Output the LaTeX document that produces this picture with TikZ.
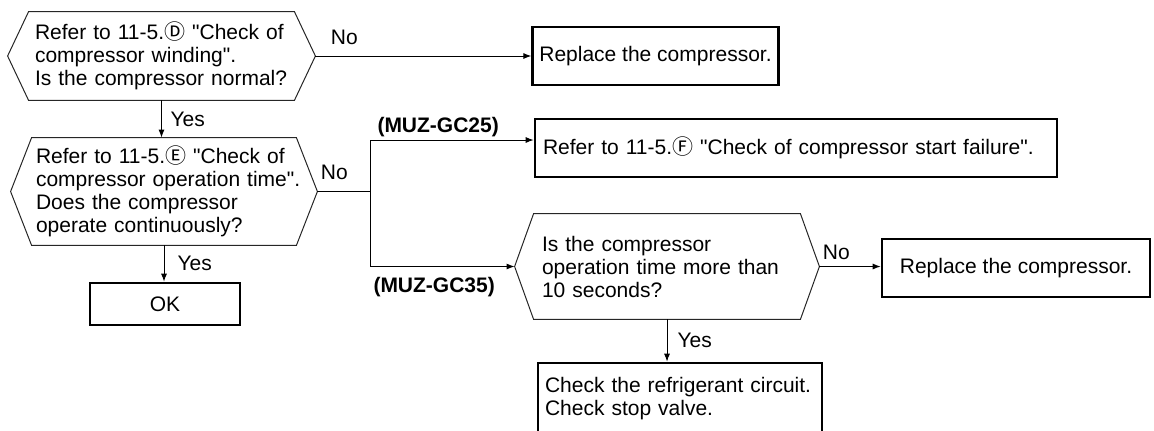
\documentclass[tikz,border=0pt]{standalone}
\usepackage{fontspec}
\setmainfont{Liberation Sans}
\newfontfamily\circfont{Noto Sans CJK JP}
\usepackage{tikz}
\usetikzlibrary{arrows.meta}

\newcommand{\circled}[1]{{\circfont\fontsize{10.5}{11}\selectfont #1}}
\newcommand{\qt}{\textquotedbl}

\begin{document}
\begin{tikzpicture}[
  x=0.5pt,
  y=-0.5pt,
  every node/.style={font=\fontsize{10.5}{11.5}\selectfont},
  decision/.style={inner ysep=0pt, align=left},
  result/.style={draw, line width=1.3pt, inner ysep=0pt},
  hexline/.style={draw=black!85, line width=0.5pt},
  flow/.style={draw, line width=0.5pt, -{Latex[length=4pt,width=3pt]}},
  link/.style={draw, line width=0.5pt},
  answer/.style={inner sep=1.5pt},
  model/.style={inner sep=1.5pt, font=\fontsize{10.5}{11.5}\selectfont\bfseries}
]
\useasboundingbox (0,0) rectangle (1154,430);
\node[decision, text width=126.5pt, inner xsep=13.5pt, minimum height=44pt] (dec1) at (161.5,56)
  {Refer to 11-5.\circled{Ⓓ} \qt Check of\\ compressor winding\qt.\\ Is the compressor normal?};
\node[decision, text width=128pt, inner xsep=12.5pt, minimum height=53.5pt] (dec2) at (164,191.5)
  {Refer to 11-5.\circled{Ⓔ} \qt Check of\\ \mbox{compressor operation time\qt.}\\ Does the compressor\\ operate continuously?};
\node[decision, text width=125pt, inner xsep=13.5pt, minimum height=52.5pt] (dec3) at (667,266.5)
  {Is the compressor\\ operation time more than\\ 10 seconds?};
\foreach \n/\d in {dec1/10.5pt,dec2/10.5pt,dec3/9.5pt} {
  \draw[hexline] (\n.west) -- ([xshift=\d]\n.north west) -- ([xshift=-\d]\n.north east)
    -- (\n.east) -- ([xshift=-\d]\n.south east) -- ([xshift=\d]\n.south west) -- cycle;
}
\node[result, minimum width=122.5pt, minimum height=29pt] (rep1) at (655.5,56) {Replace the compressor.};
\node[result, text width=253pt, inner xsep=4pt, minimum height=29pt, align=left] (chkF) at (796,148)
  {Refer to 11-5.\circled{Ⓕ} \qt Check of compressor start failure\qt.};
\node[result, minimum width=75pt, minimum height=21pt] (ok) at (165,304) {OK};
\node[result, minimum width=134pt, minimum height=29pt] (rep2) at (1016,268) {Replace the compressor.};
\node[result, text width=135pt, inner xsep=3.5pt, minimum height=36pt, align=left] (chk) at (680,399)
  {Check the refrigerant circuit.\\ Check stop valve.};
\coordinate (split) at (370,191.5);
\draw[flow] (dec1.east) -- node[answer, pos=0, anchor=south west, xshift=6pt, yshift=4pt] {No} (rep1.west);
\draw[flow] (dec1.south) -- node[answer, anchor=west, xshift=2.75pt] {Yes} (dec1.south |- dec2.north);
\draw[link] (dec2.east) -- node[answer, pos=0, anchor=south west, yshift=4pt] {No} (split);
\draw[flow] (dec2.south) -- node[answer, anchor=west, xshift=5pt] {Yes} (dec2.south |- ok.north);
\draw[flow] (split) |- node[model, pos=0.5, anchor=south west, xshift=2pt] {(MUZ-GC25)} ([yshift=4pt]chkF.west);
\draw[flow] (split) |- node[model, pos=0.5, anchor=north west, yshift=-3.75pt] {(MUZ-GC35)} (dec3.west);
\draw[flow] (dec3.east) -- node[answer, pos=0, anchor=south west, yshift=1.75pt] {No} (dec3.east -| rep2.west);
\draw[flow] (dec3.south) -- node[answer, anchor=west, xshift=3.5pt] {Yes} (dec3.south |- chk.north);
\end{tikzpicture}
\end{document}
